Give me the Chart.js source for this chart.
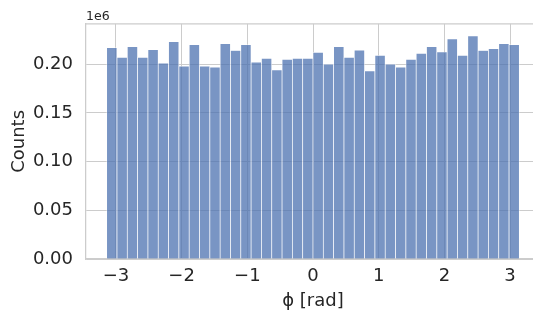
<!DOCTYPE html>
<html>
<head>
<meta charset="utf-8">
<script src="https://cdn.jsdelivr.net/npm/chart.js@4.4.1/dist/chart.umd.min.js"></script>
<style>
    html, body { margin: 0; padding: 0; background: #fff; overflow: hidden; }
    #chart { display: block; }
</style>
</head>
<body>
<canvas id="chart" width="540" height="313"></canvas>
<script>
// histogram of phi, 40 bins over [-pi, pi]
const phiMin = -Math.PI;
const phiMax = Math.PI;
const binCount = 40;
const counts = [
    217000, 207000, 218000, 207000, 215000, 201000, 223000, 198000, 220000, 198000,
    197000, 221000, 214000, 220000, 202000, 206000, 194000, 205000, 206000, 206000,
    212000, 200000, 218000, 207000, 214500, 193000, 209000, 200000, 197000, 205000,
    211000, 218000, 212500, 226000, 209000, 229000, 214000, 216000, 221000, 220000,
];
const xTickValues = [-3, -2, -1, 0, 1, 2, 3];
const yTickValues = [0, 50000, 100000, 150000, 200000];

const binWidth = (phiMax - phiMin) / binCount;
const binCenters = counts.map((c, i) => phiMin + (i + 0.5) * binWidth);

const textColor = '#262626';
const gridColor = '#cccccc';
const fontFamily = '"DejaVu Sans", sans-serif';

// top spine + the "1e6" offset label
const extrasPlugin = {
    id: 'extras',
    afterDraw(chart) {
        const { ctx, chartArea } = chart;
        ctx.save();
        ctx.strokeStyle = gridColor;
        ctx.lineWidth = 1.25;
        ctx.beginPath();
        ctx.moveTo(chartArea.left, chartArea.top);
        ctx.lineTo(chartArea.right, chartArea.top);
        ctx.stroke();
        ctx.fillStyle = textColor;
        ctx.font = '12.5px ' + fontFamily;
        ctx.textAlign = 'left';
        ctx.textBaseline = 'bottom';
        ctx.fillText('1e6', chartArea.left, chartArea.top - 1);
        ctx.restore();
    },
};

const ctx = document.getElementById('chart').getContext('2d');
new Chart(ctx, {
    type: 'bar',
    data: {
        datasets: [
            {
                data: binCenters.map((x, i) => ({ x: x, y: counts[i] })),
                backgroundColor: 'rgba(76, 114, 176, 0.75)',
                borderColor: 'rgba(255, 255, 255, 0.6)',
                borderWidth: 0.7,
                barPercentage: 1,
                categoryPercentage: 1,
            },
        ],
    },
    options: {
        responsive: false,
        animation: false,
        devicePixelRatio: 1,
        layout: { padding: { top: 20, left: 0, right: 0, bottom: 0 } },
        plugins: {
            legend: { display: false },
            tooltip: { enabled: false },
        },
        scales: {
            x: {
                type: 'linear',
                offset: false,
                min: -3.456,
                max: 3.456,
                afterBuildTicks: (scale) => {
                    scale.ticks = xTickValues.map((v) => ({ value: v }));
                },
                afterFit: (scale) => {
                    scale.height = 54;
                },
                grid: { color: gridColor, lineWidth: 1, drawTicks: false, offset: false },
                border: { color: gridColor, width: 1.25 },
                ticks: {
                    color: textColor,
                    font: { family: fontFamily, size: 18 },
                    padding: 7,
                    maxRotation: 0,
                    callback: (v) => String(v).replace('-', '\u2212'),
                },
                title: {
                    display: true,
                    text: '\u03d5 [rad]',
                    color: textColor,
                    font: { family: fontFamily, size: 18 },
                    padding: { top: 0, bottom: 1 },
                },
            },
            y: {
                min: 0,
                max: 241400,
                afterBuildTicks: (scale) => {
                    scale.ticks = yTickValues.map((v) => ({ value: v }));
                },
                afterFit: (scale) => {
                    scale.width = 86;
                },
                grid: { color: gridColor, lineWidth: 1, drawTicks: false },
                border: { color: gridColor, width: 1.25 },
                ticks: {
                    color: textColor,
                    font: { family: fontFamily, size: 18 },
                    padding: 13,
                    callback: (v) => (v / 1e6).toFixed(2),
                },
                title: {
                    display: true,
                    text: 'Counts',
                    color: textColor,
                    font: { family: fontFamily, size: 18 },
                    padding: { top: 9, bottom: 0 },
                },
            },
        },
    },
    plugins: [extrasPlugin],
});
</script>
</body>
</html>
